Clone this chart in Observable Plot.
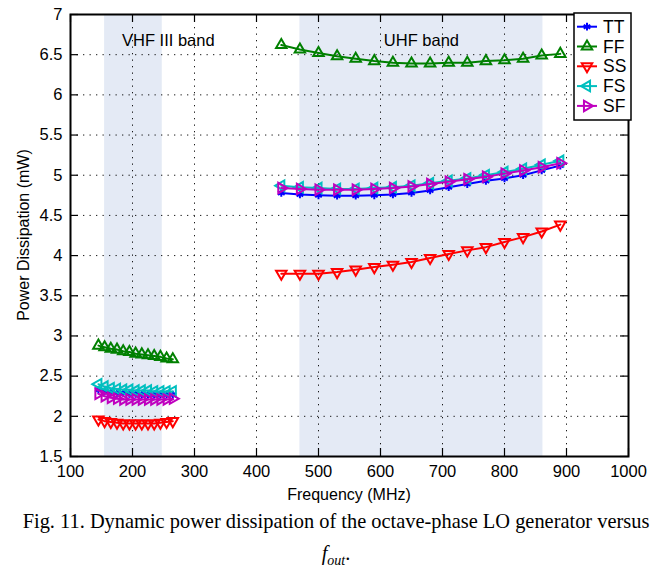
<!DOCTYPE html>
<html>
<head>
<meta charset="utf-8">
<script src="https://cdn.jsdelivr.net/npm/d3@7"></script>
<script src="https://cdn.jsdelivr.net/npm/@observablehq/plot@0.6"></script>
<style>
  html, body { margin: 0; padding: 0; background: #fff; }
  #chart { width: 672px; }
  #chart svg { display: block; }
  .cap { width: 672px; text-align: center; font-family: "Liberation Serif", "Times New Roman", serif; font-size: 20.4px; line-height: 32px; color: #000; white-space: nowrap; }
  .cap sub { font-size: 14px; vertical-align: -5px; line-height: 0; font-style: italic; }
</style>
</head>
<body>
<div id="chart"></div>
<div class="cap">Fig. 11. Dynamic power dissipation of the octave-phase LO generator versus<br><i>f</i><sub>out</sub>.</div>
<script>
// ---- data ----
const xTicks = [100, 200, 300, 400, 500, 600, 700, 800, 900, 1000];
const yTicks = [1.5, 2, 2.5, 3, 3.5, 4, 4.5, 5, 5.5, 6, 6.5, 7];
const seriesNames = ["TT", "FF", "SS", "FS", "SF"];
const seriesColors = ["#0000ff", "#008000", "#ff0000", "#00bfbf", "#bf00bf"];

const vhfFreq = [145, 155, 165, 175, 185, 195, 205, 215, 225, 235, 245, 255, 265];
const uhfFreq = [440, 470, 500, 530, 560, 590, 620, 650, 680, 710, 740, 770, 800, 830, 860, 890];

const TT_vhf = [2.33, 2.31, 2.30, 2.29, 2.29, 2.28, 2.28, 2.27, 2.27, 2.27, 2.27, 2.27, 2.27];
const FF_vhf = [2.88, 2.86, 2.84, 2.83, 2.81, 2.80, 2.78, 2.77, 2.76, 2.75, 2.74, 2.72, 2.71];
const SS_vhf = [1.96, 1.94, 1.93, 1.92, 1.91, 1.91, 1.91, 1.91, 1.91, 1.91, 1.92, 1.93, 1.94];
const FS_vhf = [2.40, 2.37, 2.35, 2.34, 2.33, 2.33, 2.32, 2.32, 2.32, 2.31, 2.31, 2.31, 2.31];
const SF_vhf = [2.28, 2.25, 2.23, 2.22, 2.21, 2.21, 2.21, 2.21, 2.21, 2.21, 2.21, 2.21, 2.22];

const TT_uhf = [4.78, 4.76, 4.75, 4.745, 4.745, 4.75, 4.76, 4.78, 4.81, 4.85, 4.89, 4.93, 4.96, 5.00, 5.06, 5.12];
const FF_uhf = [6.62, 6.565, 6.52, 6.48, 6.45, 6.42, 6.40, 6.39, 6.39, 6.40, 6.40, 6.42, 6.43, 6.45, 6.49, 6.51];
const SS_uhf = [3.775, 3.775, 3.775, 3.795, 3.825, 3.857, 3.887, 3.92, 3.97, 4.02, 4.065, 4.105, 4.17, 4.23, 4.30, 4.385];
const FS_uhf = [4.87, 4.85, 4.84, 4.83, 4.83, 4.84, 4.85, 4.87, 4.90, 4.93, 4.96, 5.00, 5.04, 5.08, 5.13, 5.18];
const SF_uhf = [4.84, 4.83, 4.82, 4.82, 4.82, 4.83, 4.84, 4.86, 4.89, 4.92, 4.95, 4.98, 5.02, 5.06, 5.10, 5.15];

const bandNames = ["VHF III band", "UHF band"];
const bandStart = [155, 470];
const bandEnd = [248, 862];
const bandLabelX = [183, 666];

// ---- build tables ----
const vhfVals = {TT: TT_vhf, FF: FF_vhf, SS: SS_vhf, FS: FS_vhf, SF: SF_vhf};
const uhfVals = {TT: TT_uhf, FF: FF_uhf, SS: SS_uhf, FS: FS_uhf, SF: SF_uhf};
const symbolOf = {TT: "asterisk", FF: "triangle", SS: "triangle", FS: "triangle", SF: "triangle"};
const rotateOf = {TT: 0, FF: 0, SS: 180, FS: -90, SF: 90};
const sizeOf = {TT: 3.6, FF: 3.9, SS: 3.9, FS: 3.9, SF: 3.9};

const rows = [];
seriesNames.forEach(s => {
  vhfFreq.forEach((f, i) => rows.push({series: s, band: "VHF", f, p: vhfVals[s][i]}));
  uhfFreq.forEach((f, i) => rows.push({series: s, band: "UHF", f, p: uhfVals[s][i]}));
});
const bands = bandNames.map((n, i) => ({name: n, x1: bandStart[i], x2: bandEnd[i], lx: bandLabelX[i]}));

const W = 672, H = 505, mL = 70, mR = 44, mT = 14, mB = 49;
const frameH = H - mT - mB, frameW = W - mL - mR;

const seriesMarks = [];
seriesNames.forEach((s, k) => {
  const d = rows.filter(r => r.series === s);
  seriesMarks.push(Plot.line(d, {x: "f", y: "p", z: "band", stroke: seriesColors[k], strokeWidth: 2}));
  seriesMarks.push(Plot.dot(d, {x: "f", y: "p", symbol: symbolOf[s], rotate: rotateOf[s], r: sizeOf[s], fill: "none", stroke: seriesColors[k], strokeWidth: 2}));
});

const gridStyle = {stroke: "#000", strokeOpacity: 0.9, strokeWidth: 1, strokeDasharray: "1.3,5.2"};

const chart = Plot.plot({
  width: W, height: H,
  marginLeft: mL, marginRight: mR, marginTop: mT, marginBottom: mB,
  x: {domain: [100, 1000]},
  y: {domain: [1.5, 7]},
  style: {fontFamily: "'Liberation Sans', Arial, Helvetica, sans-serif", fontSize: "16.5px", color: "#000", background: "#fff", overflow: "visible"},
  marks: [
    Plot.rect(bands, {x1: "x1", x2: "x2", fill: "#e4eaf5"}),
    Plot.text(bands.slice(0, 1), {x: "lx", text: "name", textAnchor: "start", frameAnchor: "top", dy: 20, fontSize: 16.5, fill: "#000"}),
    Plot.text(bands.slice(1), {x: "lx", text: "name", textAnchor: "middle", frameAnchor: "top", dy: 20, fontSize: 16.5, fill: "#000"}),
    Plot.ruleX(xTicks.slice(1, -1), gridStyle),
    Plot.ruleY(yTicks.slice(1, -1), gridStyle),
    ...seriesMarks,
    Plot.tickX(xTicks, {x: d => d, insetTop: frameH - 8, stroke: "#000", strokeWidth: 1.2}),
    Plot.tickX(xTicks, {x: d => d, insetBottom: frameH - 8, stroke: "#000", strokeWidth: 1.2}),
    Plot.tickY(yTicks, {y: d => d, insetRight: frameW - 8, stroke: "#000", strokeWidth: 1.2}),
    Plot.tickY(yTicks, {y: d => d, insetLeft: frameW - 8, stroke: "#000", strokeWidth: 1.2}),
    Plot.frame({stroke: "#000", strokeWidth: 2}),
    Plot.axisX({ticks: xTicks, tickSize: 0, tickPadding: 9, label: null, tickFormat: d => String(d)}),
    Plot.axisY({ticks: yTicks, tickSize: 0, tickPadding: 8, label: null, tickFormat: d => String(d)})
  ]
});
document.getElementById("chart").appendChild(chart);

// ---- axis titles ----
const svg = d3.select(chart);
svg.append("text")
  .attr("x", mL + frameW / 2).attr("y", H - 5)
  .attr("text-anchor", "middle").attr("font-size", 16).attr("fill", "#000")
  .text("Frequency (MHz)");
svg.append("text")
  .attr("transform", `translate(23,${mT + frameH / 2}) rotate(-90)`)
  .attr("text-anchor", "middle").attr("dominant-baseline", "central")
  .attr("font-size", 16).attr("fill", "#000")
  .text("Power Dissipation (mW)");

// ---- legend ----
const lg = svg.append("g");
const lx0 = 574, ly0 = 13, lw = 57, lh = 107;
lg.append("rect").attr("x", lx0).attr("y", ly0).attr("width", lw).attr("height", lh)
  .attr("fill", "#fff").attr("stroke", "#000").attr("stroke-width", 1.5);
const d3sym = {asterisk: d3.symbolAsterisk, triangle: d3.symbolTriangle};
seriesNames.forEach((s, i) => {
  const yy = ly0 + 13.7 + i * 19.8;
  const g = lg.append("g");
  g.append("line").attr("x1", lx0 + 3).attr("x2", lx0 + 23).attr("y1", yy).attr("y2", yy)
    .attr("stroke", seriesColors[i]).attr("stroke-width", 2);
  const r = sizeOf[s];
  g.append("path")
    .attr("d", d3.symbol(d3sym[symbolOf[s]], Math.PI * r * r)())
    .attr("transform", `translate(${lx0 + 13},${yy}) rotate(${rotateOf[s]})`)
    .attr("fill", "none").attr("stroke", seriesColors[i]).attr("stroke-width", 2);
  g.append("text").attr("x", lx0 + 29).attr("y", yy).attr("dominant-baseline", "central")
    .attr("text-anchor", "start")
    .attr("font-size", 17.5).attr("fill", "#000").text(s);
});
</script>
</body>
</html>
